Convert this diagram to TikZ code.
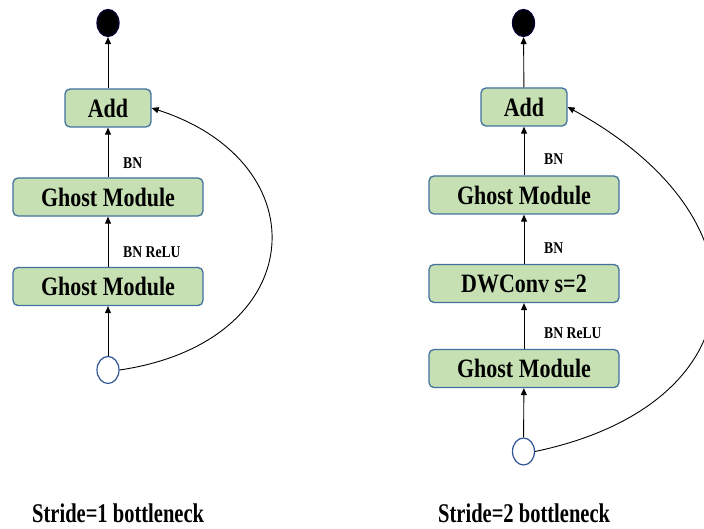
\documentclass[tikz,border=0pt]{standalone}
\usepackage{fontspec}
\usetikzlibrary{arrows.meta}
\newfontfamily\cf[FakeStretch=0.83]{Liberation Serif}
\newfontfamily\tf[FakeStretch=0.76]{Liberation Serif}
\definecolor{boxfill}{HTML}{C6E0B4}
\definecolor{boxline}{HTML}{41719C}
\definecolor{ellline}{HTML}{2F5597}
\tikzset{
  blk/.style={draw=boxline, line width=1.3pt, fill=boxfill, rounded corners=5pt,
    minimum height=38pt, inner sep=0pt, font=\cf\bfseries\fontsize{26.5}{28}\selectfont},
  outnode/.style={ellipse, draw=black!80!blue, line width=1.2pt, fill=black, minimum width=22pt, minimum height=27pt, inner sep=0pt},
  innode/.style={ellipse, draw=ellline, line width=1.2pt, fill=white, minimum width=22pt, minimum height=27pt, inner sep=0pt},
  lbl/.style={anchor=west, inner sep=0pt, font=\cf\bfseries\fontsize{16.5}{18}\selectfont},
  ttl/.style={anchor=base west, inner sep=0pt, font=\tf\bfseries\fontsize{27}{29}\selectfont},
  arr/.style={draw=black, line width=0.9pt, -{Triangle[length=7pt,width=6pt]}}
}
\usetikzlibrary{shapes.geometric}
\begin{document}
\begin{tikzpicture}[x=1pt,y=1pt]
\useasboundingbox (0,0) rectangle (704,529);
% Left column
\node[outnode] (lo) at (108,506) {};
\node[blk, minimum width=86pt] (ladd) at (108,421) {Add};
\node[blk, minimum width=190pt] (lg1) at (108,332) {Ghost Module};
\node[blk, minimum width=190pt] (lg2) at (108,242.5) {Ghost Module};
\node[innode] (li) at (108,159) {};
\node[lbl] (lbn) at (123,366) {BN};
\node[lbl] (lbr) at (123,277) {BN ReLU};
\draw[arr] (li) -- (lg2);
\draw[arr] (lg2) -- (lg1);
\draw[arr] (lg1) -- (ladd);
\draw[arr] (ladd) -- (lo);
\draw[arr] (li.east) .. controls +(190,28) and +(170,-55) .. (ladd.east);
\node[ttl] (lt) at (32,6) {Stride=1 bottleneck};
% Right column
\node[outnode] (ro) at (523.5,506) {};
\node[blk, minimum width=86pt] (radd) at (524,422) {Add};
\node[blk, minimum width=190pt] (rg1) at (524,334) {Ghost Module};
\node[blk, minimum width=190pt] (rdw) at (524,245.5) {DWConv s=2};
\node[blk, minimum width=190pt] (rg2) at (524,160.5) {Ghost Module};
\node[innode] (ri) at (523.5,77.5) {};
\node[lbl] (rbn1) at (544,370) {BN};
\node[lbl] (rbn2) at (544,281) {BN};
\node[lbl] (rbr) at (544,196) {BN ReLU};
\draw[arr] (ri) -- (rg2);
\draw[arr] (rg2) -- (rdw);
\draw[arr] (rdw) -- (rg1);
\draw[arr] (rg1) -- (radd);
\draw[arr] (radd) -- (ro);
\draw[arr] (ri.east) .. controls +(220,46) and +(210,-115) .. (radd.east);
\node[ttl] (rt) at (438,6) {Stride=2 bottleneck};
\end{tikzpicture}
\end{document}
